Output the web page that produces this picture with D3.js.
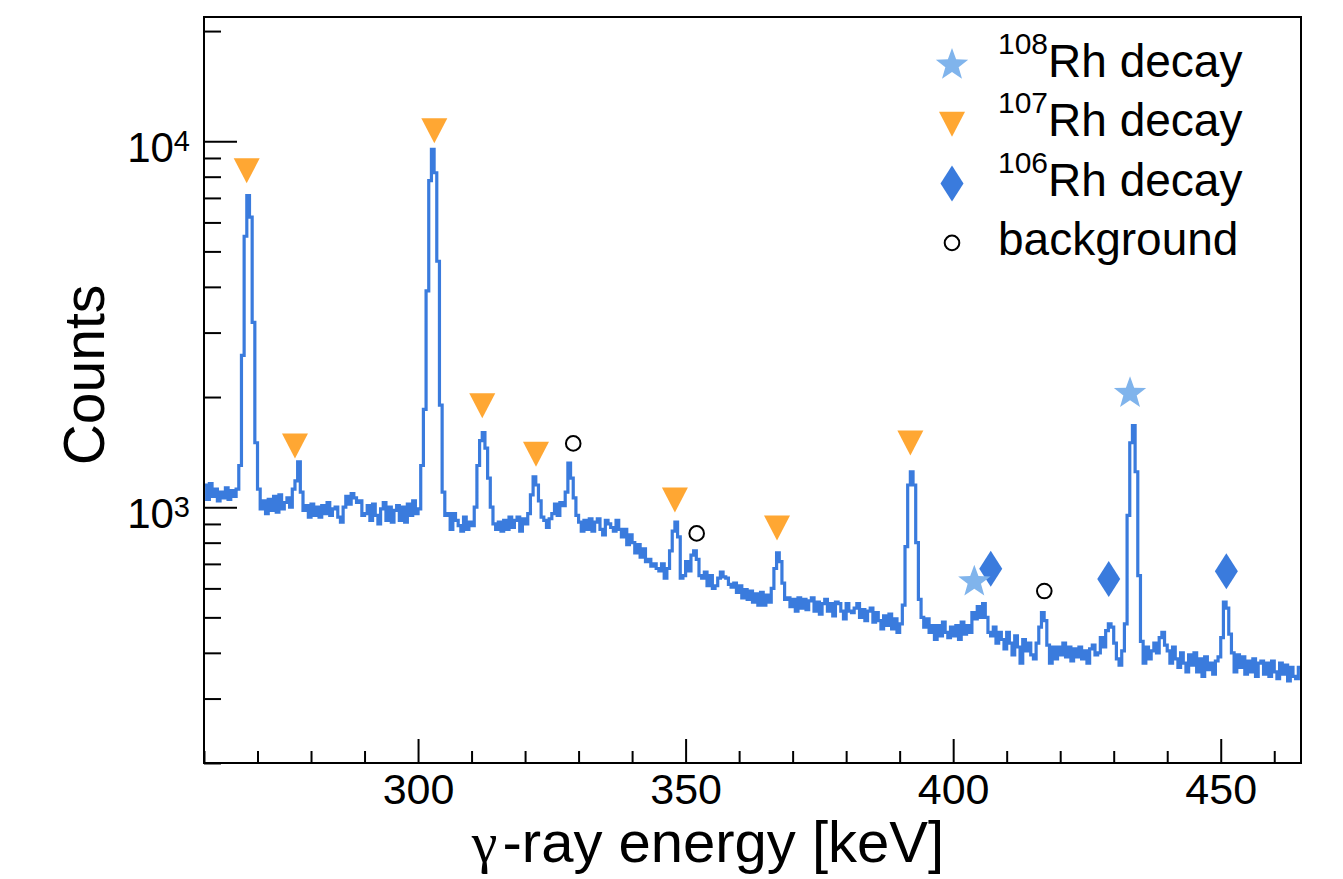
<!DOCTYPE html>
<html>
<head>
<meta charset="utf-8">
<script src="https://cdn.jsdelivr.net/npm/d3@7"></script>
<style>
  body { margin: 0; background: #fff; }
  text { font-family: "Liberation Sans", Arial, Helvetica, sans-serif; fill: #000; }
</style>
</head>
<body>
<script>
// Histogram binning (keV)
const binLow = 260;
const binWidth = 0.5;

// Bin contents, 0.5 keV bins from 260 keV, one row per 10 keV
const counts = [
  1150,1050,1160,1070,1120,1040,1100,1060,1130,1050,1110,1070,1120,1300,2600,5500,7100,6200,3200,1500, // 260
  1120,990,1040,960,1050,980,1070,970,1080,990,1030,1060,1000,1120,1180,1330,1100,980,1010,940,        // 270
  1020,950,1000,940,1010,960,1030,950,990,1000,940,910,1000,1070,1020,1090,1060,1030,1040,950,         // 280
  960,1010,920,1020,950,900,990,1030,920,1000,910,980,1010,920,1000,910,1020,950,1040,960,             // 290
  990,1300,1850,3900,7800,9500,8200,4700,1900,1100,950,960,870,960,920,890,860,940,870,910,            // 300
  890,1000,1300,1520,1600,1450,1200,1000,900,870,910,860,920,870,940,880,920,940,860,930,              // 310
  900,960,1080,1210,1150,1040,940,920,880,930,960,1020,950,1030,1010,1100,1320,1200,1060,950,          // 320
  910,860,920,870,930,860,910,930,870,840,920,900,880,860,920,870,830,870,790,840,                     // 330
  800,750,790,730,770,710,720,690,700,680,670,700,640,680,760,860,910,830,640,650,                     // 340
  710,670,740,760,720,650,640,665,610,650,600,610,640,665,645,640,615,605,620,585,                     // 350
  610,565,595,560,590,550,580,540,585,540,575,550,600,680,750,710,620,560,565,535,                     // 360
  560,520,565,530,560,525,555,565,520,550,510,545,560,520,545,505,550,545,520,495,                     // 370
  545,520,515,530,545,500,525,490,520,530,485,515,490,465,505,475,510,465,495,455,                     // 380
  480,540,780,1150,1250,1150,800,560,500,470,495,455,475,435,475,445,485,455,440,470,                  // 390
  445,475,435,485,450,475,455,515,495,535,500,545,500,455,445,470,425,455,435,410,                     // 400
  455,425,395,445,415,375,435,405,425,395,385,425,470,515,490,420,375,415,385,415,                     // 410
  395,425,390,415,380,410,390,415,385,405,375,410,420,395,400,440,415,460,480,470,                     // 420
  425,385,370,405,480,950,1500,1670,1250,650,430,375,415,385,405,425,400,440,455,420,                  // 430
  405,375,415,385,365,400,375,355,395,370,400,355,385,345,390,360,375,350,380,390,                     // 440
  440,550,530,450,400,355,395,365,390,350,380,355,385,345,375,380,350,375,345,380,                     // 450
  355,340,375,350,370,335,365,345,340,365                                                               // 460
];

// Peak markers [energy keV, counts]
const rh108 = [[433.05, 2047], [403.95, 626]];
const rh107 = [[267.98, 8300], [277.0, 1470], [303.04, 10680], [312.0, 1892],
               [322.04, 1396], [348.0, 1046], [367.08, 878], [392.0, 1497]];
const rh106 = [[407.02, 679], [429.07, 637], [451.05, 668]];
const background = [[329.0, 1494], [352.07, 848], [417.03, 590]];

// Axis ticks
const xMajor = [300, 350, 400, 450];
const xMinor = [260, 270, 280, 290, 310, 320, 330, 340, 360, 370, 380, 390, 410, 420, 430, 440, 460];
const yMajor = [1000, 10000];
const yMajorExp = ["3", "4"];
const yMinor = [200, 300, 400, 500, 600, 700, 800, 900, 2000, 3000, 4000, 5000, 6000, 7000, 8000, 9000, 20000];

const legendEntries = [
  {mass: "108", label: "Rh decay", shape: "star"},
  {mass: "107", label: "Rh decay", shape: "tri"},
  {mass: "106", label: "Rh decay", shape: "diamond"},
  {mass: "", label: "background", shape: "circle"}
];

const COLORS = {
  line: "#3a7bdd",
  star: "#80b4ec",
  tri: "#ffa733",
  diamond: "#3a7bdd"
};

const W = 1343, H = 879;
const frame = {left: 204, right: 1301, top: 17, bottom: 763};

const svg = d3.select("body").append("svg")
  .attr("width", W)
  .attr("height", H);

const x = d3.scaleLinear().domain([260, 465]).range([frame.left, frame.right]);
const y = d3.scaleLog().domain([200, 21850]).range([frame.bottom, frame.top]);

svg.append("clipPath").attr("id", "plotClip")
  .append("rect")
  .attr("x", frame.left).attr("y", frame.top)
  .attr("width", frame.right - frame.left)
  .attr("height", frame.bottom - frame.top);

// Histogram as steps
let pts = counts.map((c, i) => [binLow + i * binWidth, c]);
pts.push([binLow + counts.length * binWidth, counts[counts.length - 1]]);

let line = d3.line()
  .x(d => x(d[0]))
  .y(d => y(d[1]))
  .curve(d3.curveStepAfter);

svg.append("path")
  .datum(pts)
  .attr("clip-path", "url(#plotClip)")
  .attr("d", line)
  .style("fill", "none")
  .style("stroke", COLORS.line)
  .style("stroke-width", "3.2px")
  .style("stroke-linejoin", "miter");

// Marker shapes
function starPath(R, r) {
  let p = [];
  for (let k = 0; k < 10; k++) {
    let a = -Math.PI / 2 + k * Math.PI / 5;
    let rad = (k % 2 === 0) ? R : r;
    p.push([rad * Math.cos(a), rad * Math.sin(a)]);
  }
  return "M" + p.map(q => q.join(",")).join("L") + "Z";
}
const shapes = {
  star: starPath(17, 7),
  tri: "M-13,-12.5L13,-12.5L0,12.5Z",
  diamond: "M0,-18L11.5,0L0,18L-11.5,0Z"
};

function drawMarker(g, shape, cx, cy) {
  if (shape === "circle") {
    g.append("circle")
      .attr("cx", cx).attr("cy", cy).attr("r", 7.3)
      .style("fill", "none")
      .style("stroke", "#000")
      .style("stroke-width", "2px");
  } else {
    g.append("path")
      .attr("d", shapes[shape])
      .attr("transform", `translate(${cx},${cy})`)
      .style("fill", COLORS[shape]);
  }
}

let markers = svg.append("g");
rh107.forEach(d => drawMarker(markers, "tri", x(d[0]), y(d[1])));
rh106.forEach(d => drawMarker(markers, "diamond", x(d[0]), y(d[1])));
rh108.forEach(d => drawMarker(markers, "star", x(d[0]), y(d[1])));
background.forEach(d => drawMarker(markers, "circle", x(d[0]), y(d[1])));

// Axes (ticks inside the frame)
let xAxis = svg.append("g")
  .attr("transform", `translate(0,${frame.bottom})`)
  .call(d3.axisBottom(x).tickValues(xMajor).tickSizeInner(-24).tickSizeOuter(0).tickPadding(10));
xAxis.select(".domain").remove();
xAxis.selectAll("line").style("stroke-width", "2px");
xAxis.selectAll("text").style("font-size", "43px");

let xAxisMinor = svg.append("g")
  .attr("transform", `translate(0,${frame.bottom})`)
  .call(d3.axisBottom(x).tickValues(xMinor).tickSizeInner(-12).tickSizeOuter(0).tickFormat(""));
xAxisMinor.select(".domain").remove();
xAxisMinor.selectAll("line").style("stroke-width", "2px");

let yAxis = svg.append("g")
  .attr("transform", `translate(${frame.left},0)`)
  .call(d3.axisLeft(y).tickValues(yMajor).tickSizeInner(-33).tickSizeOuter(0).tickPadding(14).tickFormat(""));
yAxis.select(".domain").remove();
yAxis.selectAll("line").style("stroke-width", "2px");
yAxis.selectAll("text")
  .attr("dy", "20px")
  .style("font-size", "42px")
  .each(function(d, i) {
    let t = d3.select(this);
    t.append("tspan").text("10");
    t.append("tspan").text(yMajorExp[i]).attr("dy", "-11px").style("font-size", "29px");
  });

let yAxisMinor = svg.append("g")
  .attr("transform", `translate(${frame.left},0)`)
  .call(d3.axisLeft(y).tickValues(yMinor).tickSizeInner(-17).tickSizeOuter(0).tickFormat(""));
yAxisMinor.select(".domain").remove();
yAxisMinor.selectAll("line").style("stroke-width", "2px");

// Frame
svg.append("rect")
  .attr("x", frame.left).attr("y", frame.top)
  .attr("width", frame.right - frame.left)
  .attr("height", frame.bottom - frame.top)
  .style("fill", "none")
  .style("stroke", "#000")
  .style("stroke-width", "2px");

// Axis titles
let xTitle = svg.append("text")
  .attr("x", 708).attr("y", 862)
  .attr("text-anchor", "middle")
  .style("font-size", "58px");
xTitle.append("tspan").text("γ").style("font-family", "'Liberation Serif', serif");
xTitle.append("tspan").text("-ray energy [keV]").attr("dx", "5px");

svg.append("text")
  .attr("transform", "translate(104,375) rotate(-90)")
  .attr("text-anchor", "middle")
  .style("font-size", "57px")
  .text("Counts");

// Legend
let legend = svg.append("g");
legendEntries.forEach((e, i) => {
  let cy = 65 + i * 59.3;
  drawMarker(legend, e.shape, 952, cy);
  let t = legend.append("text")
    .attr("x", 998).attr("y", cy + 12)
    .style("font-size", "46px");
  if (e.mass) {
    t.append("tspan").text(e.mass).attr("dy", "-23px").style("font-size", "30px");
    t.append("tspan").text(e.label).attr("dy", "23px");
  } else {
    t.text(e.label);
  }
});
</script>
</body>
</html>
